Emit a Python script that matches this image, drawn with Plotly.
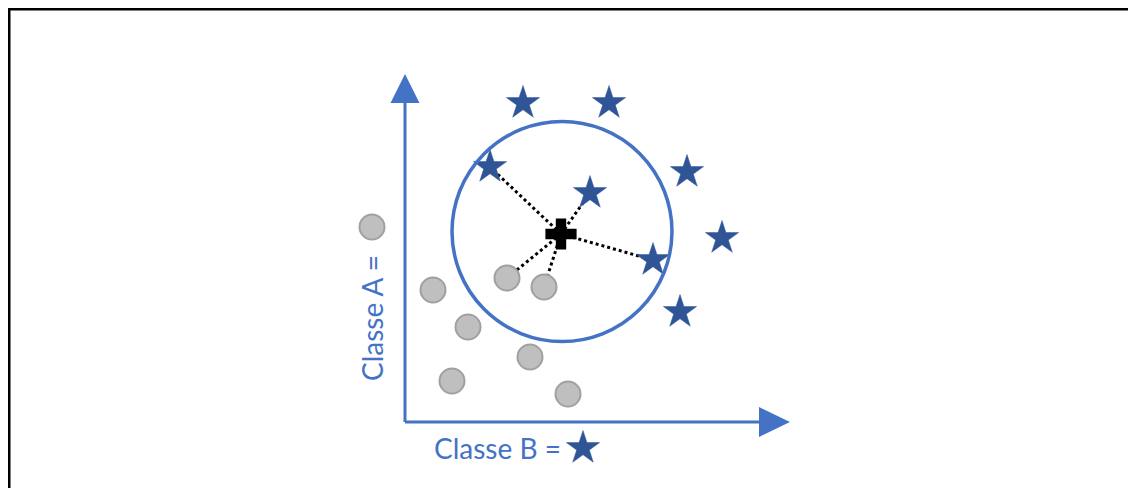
import plotly.graph_objects as go

# unités : 1 = 10 px, origine au croisement des axes
classe_a_x = [2.8, 10.2, 13.9, 6.3, 12.5, 4.7, 16.3]
classe_a_y = [13.2, 14.4, 13.5, 9.5, 6.5, 4.1, 2.8]

classe_b_x = [11.8, 20.4, 8.5, 18.5, 28.2, 31.7, 24.8, 27.5]
classe_b_y = [31.9, 31.9, 25.5, 22.9, 25.0, 18.4, 16.2, 11.0]

nouveau_x, nouveau_y = 15.6, 18.8
voisins_a = [1, 2]
voisins_b = [2, 3, 6]
cercle_cx, cercle_cy, cercle_r = 15.7, 19.05, 11.0

BLEU = "#4472C4"
ETOILE = "#2F5597"
GRIS = "#BFBFBF"
GRIS_BORD = "#A0A0A0"
FONT = "Lato"

fig = go.Figure()

# lignes pointillées vers les 5 plus proches voisins
vx = [classe_a_x[i] for i in voisins_a] + [classe_b_x[i] for i in voisins_b]
vy = [classe_a_y[i] for i in voisins_a] + [classe_b_y[i] for i in voisins_b]
for x, y in zip(vx, vy):
    fig.add_trace(go.Scatter(
        x=[nouveau_x, x], y=[nouveau_y, y], mode="lines",
        line=dict(color="black", width=3, dash="dot"),
        hoverinfo="skip", showlegend=False,
    ))

fig.add_trace(go.Scatter(
    x=classe_a_x + [-3.3], y=classe_a_y + [19.5], mode="markers",
    marker=dict(symbol="circle", size=25, color=GRIS,
                line=dict(color=GRIS_BORD, width=2)),
    showlegend=False,
))
fig.add_trace(go.Scatter(
    x=classe_b_x + [17.8], y=classe_b_y + [-2.6], mode="markers",
    marker=dict(symbol="star", size=25, color=ETOILE,
                line=dict(color=ETOILE, width=0.5)),
    showlegend=False,
))
fig.add_trace(go.Scatter(
    x=[nouveau_x], y=[nouveau_y], mode="markers",
    marker=dict(symbol="cross", size=26, color="black", line=dict(width=0)),
    showlegend=False,
))

shapes = [
    dict(type="circle", xref="x", yref="y",
         x0=cercle_cx - cercle_r, x1=cercle_cx + cercle_r,
         y0=cercle_cy - cercle_r, y1=cercle_cy + cercle_r,
         line=dict(color=BLEU, width=3.5)),
    dict(type="line", xref="x", yref="y", x0=0, y0=0, x1=0, y1=32.2,
         line=dict(color=BLEU, width=3)),
    dict(type="line", xref="x", yref="y", x0=0, y0=0, x1=35.6, y1=0,
         line=dict(color=BLEU, width=3)),
    dict(type="path", xref="x", yref="y", path="M -1.45 31.9 L 1.45 31.9 L 0 34.8 Z",
         fillcolor=BLEU, line=dict(width=0)),
    dict(type="path", xref="x", yref="y", path="M 35.4 -1.5 L 35.4 1.5 L 38.5 0 Z",
         fillcolor=BLEU, line=dict(width=0)),
    # cadre
    dict(type="line", xref="paper", yref="paper", x0=0, x1=1, y0=1, y1=1,
         line=dict(color="black", width=5)),
    dict(type="line", xref="paper", yref="paper", x0=0, x1=0, y0=0, y1=1,
         line=dict(color="black", width=5)),
]

fig.update_layout(
    width=1128, height=480,
    margin=dict(l=0, r=0, t=0, b=0),
    plot_bgcolor="white", paper_bgcolor="white",
    xaxis=dict(range=[-39.7, 73.1], visible=False),
    yaxis=dict(range=[-6.6, 41.4], visible=False),
    shapes=shapes,
    annotations=[
        dict(x=-3.3, y=10.4, text="Classe A =", textangle=-90, showarrow=False,
             font=dict(family=FONT, size=28, color=BLEU)),
        dict(x=9.2, y=-2.6, text="Classe B =", showarrow=False,
             font=dict(family=FONT, size=28, color=BLEU)),
    ],
)

fig.write_html("out.html")
